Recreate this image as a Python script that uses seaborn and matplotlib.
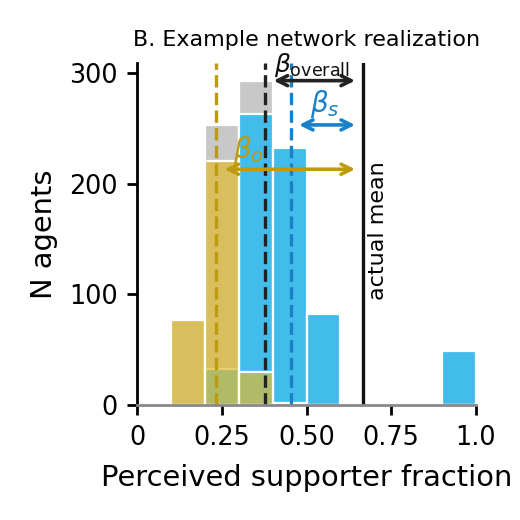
import matplotlib
matplotlib.use("Agg")
import matplotlib.pyplot as plt
import numpy as np
import seaborn as sns

# Histogram bins (perceived supporter fraction) and counts per group
bin_edges = [0.0, 0.1, 0.2, 0.3, 0.4, 0.5, 0.6, 0.7, 0.8, 0.9, 1.0]
bin_centers = [0.05, 0.15, 0.25, 0.35, 0.45, 0.55, 0.65, 0.75, 0.85, 0.95]
opposers = [0, 77, 220, 30, 2, 0, 0, 0, 0, 0]
supporters = [0, 0, 33, 263, 232, 82, 0, 0, 0, 49]
overall = [0, 77, 253, 293, 234, 82, 0, 0, 0, 49]

# Mean perceptions and the true supporter fraction
mean_opp = 0.233
mean_sup = 0.453
mean_all = 0.378
actual_mean = 0.668

xticks = [0, 0.25, 0.5, 0.75, 1.0]
xticklabels = ["0", "0.25", "0.50", "0.75", "1.0"]
yticks = [0, 100, 200, 300]

sns.set_style("ticks")
plt.rcParams["font.family"] = ["DejaVu Sans"]
plt.rcParams.update({"text.color": "black", "axes.labelcolor": "black",
                     "xtick.color": "black", "ytick.color": "black",
                     "axes.edgecolor": "black"})

c_grey = "#BBBBBB"
c_blue_bar = "#33BBEE"
c_blue_line = "#1A80C8"
c_yel_bar = "#E0BA30"
c_yel_line = "#BE9A0E"

fig = plt.figure(figsize=(2.6, 2.6), dpi=200)
ax = fig.add_axes([0.264, 0.221, 0.651, 0.658])

hist_kw = dict(bins=bin_edges, edgecolor="white", linewidth=0.8, ax=ax)
sns.histplot(x=bin_centers, weights=overall, color=c_grey, alpha=0.8, **hist_kw)
sns.histplot(x=bin_centers, weights=supporters, color=c_blue_bar, alpha=0.9, **hist_kw)
sns.histplot(x=bin_centers, weights=opposers, color=c_yel_bar, alpha=0.7, **hist_kw)

ax.axvline(mean_opp, color=c_yel_line, ls="--", lw=1.2)
ax.axvline(mean_all, color="#222222", ls="--", lw=1.2)
ax.axvline(mean_sup, color=c_blue_line, ls="--", lw=1.2)
ax.axvline(actual_mean, color="#111111", ls="-", lw=1.2)

# Bias arrows from each mean perception to the actual mean
arrow_kw = dict(arrowstyle="<->", lw=1.3, mutation_scale=9, shrinkA=3, shrinkB=3)
ax.annotate("", xy=(actual_mean, 293), xytext=(mean_all, 293),
            arrowprops=dict(color="#222222", **arrow_kw))
ax.annotate("", xy=(actual_mean, 253), xytext=(mean_sup, 253),
            arrowprops=dict(color=c_blue_line, **arrow_kw))
ax.annotate("", xy=(actual_mean, 213), xytext=(mean_opp, 213),
            arrowprops=dict(color=c_yel_line, **arrow_kw))

ax.text(0.515, 307, r"$\beta_{\rm overall}$", color="#111111", fontsize=9,
        ha="center", va="center")
ax.text(0.555, 272, r"$\beta_s$", color=c_blue_line, fontsize=10,
        ha="center", va="center")
ax.text(0.327, 230, r"$\beta_o$", color=c_yel_line, fontsize=10,
        ha="center", va="center")
ax.text(0.711, 95, "actual mean", rotation=90, fontsize=8,
        ha="center", va="bottom")

ax.set_xlim(0, 1)
ax.set_ylim(0, 309)
ax.set_xticks(xticks)
ax.set_xticklabels(xticklabels)
ax.set_yticks(yticks)
ax.tick_params(labelsize=9.2, length=3.5, width=1)
ax.set_xlabel("Perceived supporter fraction", fontsize=10.4, labelpad=5)
ax.set_ylabel("N agents", fontsize=10.4)
ax.set_title("B. Example network realization", fontsize=8)
sns.despine(ax=ax)
ax.spines["left"].set_linewidth(1)
ax.spines["bottom"].set_linewidth(1)
ax.spines["bottom"].set_color("#888888")

fig.savefig("out.png", dpi=200)
